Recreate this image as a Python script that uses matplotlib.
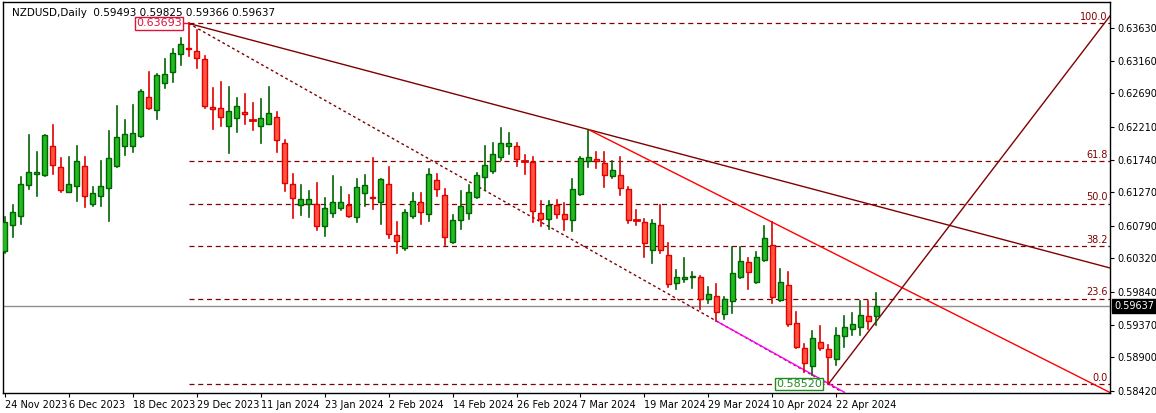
import matplotlib
matplotlib.use("Agg")
import matplotlib.pyplot as plt
from matplotlib.patches import Rectangle

# daily OHLC, NZDUSD
opens = [0.60424, 0.60796, 0.60925, 0.61369, 0.61526, 0.61512, 0.61927, 0.61626, 0.61268, 0.61354,
         0.61641, 0.61097, 0.61211, 0.61326, 0.61641, 0.61941, 0.61927, 0.62084, 0.62642, 0.62456,
         0.62843, 0.63000, 0.63258, 0.63343, 0.63301, 0.63186, 0.62499, 0.62485, 0.62227, 0.62342,
         0.62428, 0.62305, 0.62227, 0.62256, 0.62356, 0.61970, 0.61383, 0.61082, 0.61097, 0.61097,
         0.60782, 0.60968, 0.61040, 0.61082, 0.60911, 0.61254, 0.61197, 0.61125, 0.61383, 0.60653,
         0.60467, 0.60925, 0.61125, 0.60954, 0.61440, 0.61226, 0.60553, 0.60868, 0.60968, 0.61197,
         0.61483, 0.61569, 0.61769, 0.61927, 0.61941, 0.61716, 0.61698, 0.60968, 0.60882, 0.61082,
         0.60954, 0.60868, 0.61240, 0.61712, 0.61741, 0.61684, 0.61497, 0.61512, 0.61311, 0.60875,
         0.60839, 0.60439, 0.60796, 0.60367, 0.59966, 0.60023, 0.60052, 0.60052, 0.59737, 0.59780,
         0.59523, 0.59709, 0.60052, 0.60267, 0.59981, 0.60295, 0.60510, 0.59723, 0.59938, 0.59394,
         0.59036, 0.58779, 0.59122, 0.59022, 0.58879, 0.59208, 0.59308, 0.59337, 0.59494, 0.59493]
highs = [0.60911, 0.61082, 0.61483, 0.62098, 0.61841, 0.62098, 0.62241, 0.61755, 0.61783, 0.61941,
         0.61769, 0.61340, 0.61712, 0.62156, 0.62513, 0.62313, 0.62528, 0.62742, 0.63000, 0.62971,
         0.63186, 0.63329, 0.63487, 0.63693, 0.63601, 0.63229, 0.62771, 0.62857, 0.62785, 0.62628,
         0.62685, 0.62556, 0.62614, 0.62785, 0.62428, 0.62027, 0.61526, 0.61369, 0.61283, 0.61397,
         0.61183, 0.61497, 0.61340, 0.61226, 0.61454, 0.61512, 0.61755, 0.61454, 0.61626, 0.60839,
         0.61011, 0.61254, 0.61254, 0.61598, 0.61526, 0.61311, 0.60939, 0.61283, 0.61369, 0.61540,
         0.61927, 0.61984, 0.62199, 0.62127, 0.61970, 0.61798, 0.61783, 0.61140, 0.61140, 0.61154,
         0.61111, 0.61454, 0.61769, 0.62170, 0.61841, 0.61855, 0.61712, 0.61769, 0.61340, 0.61011,
         0.60882, 0.60868, 0.61082, 0.60539, 0.60152, 0.60324, 0.60124, 0.60066, 0.59909, 0.59952,
         0.59766, 0.60482, 0.60482, 0.60324, 0.60410, 0.60782, 0.60839, 0.60166, 0.60124, 0.59551,
         0.59093, 0.59279, 0.59351, 0.59079, 0.59322, 0.59494, 0.59537, 0.59709, 0.59709, 0.59825]
lows = [0.60396, 0.60624, 0.60811, 0.61311, 0.61211, 0.61497, 0.61526, 0.61268, 0.61268, 0.61140,
        0.61054, 0.61068, 0.61068, 0.60853, 0.61626, 0.61798, 0.61855, 0.62056, 0.62471, 0.62327,
        0.62771, 0.62857, 0.63100, 0.63229, 0.63057, 0.62485, 0.62184, 0.62227, 0.61827, 0.62141,
        0.62256, 0.62170, 0.61970, 0.62256, 0.61841, 0.61283, 0.60896, 0.60939, 0.60911, 0.60725,
        0.60639, 0.60911, 0.61011, 0.60911, 0.60839, 0.61068, 0.61025, 0.60811, 0.60610, 0.60396,
        0.60439, 0.60896, 0.60811, 0.60853, 0.61211, 0.60510, 0.60539, 0.60739, 0.60882, 0.61183,
        0.61297, 0.61540, 0.61726, 0.61812, 0.61641, 0.61526, 0.60839, 0.60782, 0.60739, 0.60896,
        0.60725, 0.60710, 0.61226, 0.61626, 0.61612, 0.61340, 0.61469, 0.61226, 0.60825, 0.60796,
        0.60338, 0.60252, 0.60396, 0.59909, 0.59880, 0.59981, 0.59895, 0.59594, 0.59680, 0.59422,
        0.59451, 0.59537, 0.60038, 0.59880, 0.59966, 0.60281, 0.59680, 0.59709, 0.59351, 0.59036,
        0.58693, 0.58650, 0.59007, 0.58520, 0.58793, 0.59050, 0.59222, 0.59222, 0.59308, 0.59366]
closes = [0.60839, 0.60982, 0.61383, 0.61555, 0.61555, 0.62098, 0.61655, 0.61297, 0.61383, 0.61712,
          0.61211, 0.61254, 0.61354, 0.61755, 0.62070, 0.62113, 0.62127, 0.62728, 0.62485, 0.62957,
          0.62971, 0.63272, 0.63401, 0.63329, 0.63200, 0.62513, 0.62471, 0.62356, 0.62442, 0.62513,
          0.62399, 0.62299, 0.62342, 0.62413, 0.62027, 0.61397, 0.61183, 0.61169, 0.61169, 0.60782,
          0.61040, 0.61125, 0.61125, 0.60925, 0.61340, 0.61369, 0.61183, 0.61454, 0.60667, 0.60567,
          0.60982, 0.61140, 0.60982, 0.61526, 0.61311, 0.60624, 0.60868, 0.61068, 0.61268, 0.61512,
          0.61655, 0.61812, 0.61970, 0.61984, 0.61741, 0.61712, 0.60997, 0.60882, 0.61082, 0.60954,
          0.60882, 0.61311, 0.61755, 0.61769, 0.61712, 0.61512, 0.61583, 0.61326, 0.60868, 0.60868,
          0.60539, 0.60825, 0.60439, 0.59952, 0.60052, 0.60052, 0.60066, 0.59737, 0.59809, 0.59551,
          0.59737, 0.60109, 0.60281, 0.60124, 0.60338, 0.60610, 0.59766, 0.59981, 0.59379, 0.59050,
          0.58822, 0.59179, 0.59036, 0.58907, 0.59222, 0.59337, 0.59379, 0.59508, 0.59422, 0.59637]

date_labels = ["24 Nov 2023", "6 Dec 2023", "18 Dec 2023", "29 Dec 2023", "11 Jan 2024",
               "23 Jan 2024", "2 Feb 2024", "14 Feb 2024", "26 Feb 2024", "7 Mar 2024",
               "19 Mar 2024", "29 Mar 2024", "10 Apr 2024", "22 Apr 2024"]
price_ticks = [0.63630, 0.63160, 0.62690, 0.62210, 0.61740, 0.61270, 0.60790,
               0.60320, 0.59840, 0.59370, 0.58900, 0.58420]

fib_levels = [0.0, 23.6, 38.2, 50.0, 61.8, 100.0]
swing_high = 0.63693
swing_low = 0.58520
i_high, i_low = 23, 103

GREEN = "#22bb22"
GREEN_EDGE = "#006400"
RED = "#ff5540"
RED_EDGE = "#e00000"
MAROON = "#800000"

fig = plt.figure(figsize=(11.56, 4.13), dpi=100)
ax = fig.add_axes([3 / 1156, 20 / 413, 1107 / 1156, 391 / 413])
XMIN, XMAX = -0.2, 138.2
ax.set_xlim(XMIN, XMAX)
ax.set_ylim(0.58390, 0.64000)

for i, (o, h, l, c) in enumerate(zip(opens, highs, lows, closes)):
    up = c >= o
    edge = GREEN_EDGE if up else RED_EDGE
    face = GREEN if up else RED
    ax.plot([i, i], [l, h], color=edge, lw=1.2, zorder=3)
    lo, hi = min(o, c), max(o, c)
    if hi - lo < 0.00012:
        ax.plot([i - 0.35, i + 0.35], [(o + c) / 2] * 2, color=edge, lw=2, zorder=4)
    else:
        ax.add_patch(Rectangle((i - 0.35, lo), 0.7, hi - lo, facecolor=face,
                               edgecolor=edge, lw=1, zorder=4))

# fibonacci retracement
rng = swing_high - swing_low
for f in fib_levels:
    y = swing_low + rng * f / 100
    ax.plot([i_high, XMAX], [y, y], color=MAROON, lw=0.9, ls=(0, (4, 3)), zorder=2)
    ax.text(137.9, y + 0.0002, f"{f:.1f}", color=MAROON, fontsize=7,
            ha="right", va="bottom", zorder=5)


def ray(x0, y0, x1, y1, x_end, **kw):
    slope = (y1 - y0) / (x1 - x0)
    ax.plot([x0, x_end], [y0, y0 + slope * (x_end - x0)], **kw)


# trend lines
ray(i_high, swing_high, 73, highs[73], XMAX, color=MAROON, lw=1, zorder=2)
ray(73, highs[73], 96, highs[96], XMAX, color="red", lw=1, zorder=2)
ray(i_high, swing_high, 89, lows[89], 104.5, color=MAROON, lw=1, ls=(0, (2, 2)), zorder=2)
ax.plot([89, 105], [lows[89], 0.58400], color="#ff00ff", lw=1, zorder=2)
ray(i_low, swing_low, 109, 0.59420, XMAX, color=MAROON, lw=1, zorder=2)

# current price line
ax.axhline(closes[-1], color="#909090", lw=1, zorder=1)

ax.text(i_high - 0.8, swing_high, f"{swing_high:.5f}", color="#dc143c", fontsize=8,
        ha="right", va="center", zorder=6,
        bbox=dict(boxstyle="square,pad=0.1", fc="white", ec="#dc143c", lw=1))
ax.plot([i_high - 0.8, i_high], [swing_high, swing_high], color="#dc143c", lw=1)
ax.text(i_low - 0.8, swing_low, f"{swing_low:.5f}", color="#228b22", fontsize=8,
        ha="right", va="center", zorder=6,
        bbox=dict(boxstyle="square,pad=0.1", fc="white", ec="#228b22", lw=1))

ax.yaxis.tick_right()
ax.set_yticks(price_ticks)
ax.set_yticklabels([f"{p:.5f}" for p in price_ticks])
ax.set_xticks(range(0, 8 * len(date_labels), 8))
ax.set_xticklabels(date_labels, ha="left")
ax.tick_params(labelsize=7, length=3, pad=2, colors="black")
for s in ax.spines.values():
    s.set_linewidth(1)

ax.text(1.004, closes[-1], f"{closes[-1]:.5f}", transform=ax.get_yaxis_transform(),
        color="white", fontsize=7, va="center", ha="left", zorder=7,
        bbox=dict(boxstyle="square,pad=0.2", fc="black", ec="black"))

ax.text(0.008, 0.985, "NZDUSD,Daily  0.59493 0.59825 0.59366 0.59637", transform=ax.transAxes,
        fontsize=7.5, va="top", ha="left")

fig.savefig("out.png", dpi=100)
